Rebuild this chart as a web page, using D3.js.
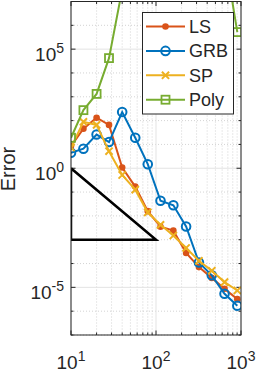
<!DOCTYPE html>
<html>
<head>
<meta charset="utf-8">
<script src="https://cdn.jsdelivr.net/npm/d3@7"></script>
<style>
  body { margin: 0; background: #fff; }
  svg text { font-family: "Liberation Sans", Arial, sans-serif; fill: #262626; }
</style>
</head>
<body>
<script>
// chart data
var nVals = [10, 14, 20, 28, 40, 57, 80, 113, 160, 226, 320, 453, 640, 905];
var lsErr = [8.5, 46, 132, 66, 1.07, 0.17, 0.0158, 3.5e-3, 2.4e-3, 2.8e-4, 7.1e-5, 2.5e-5, 8.7e-6, 3.2e-6];
var grbErr = [4.5, 6.6, 26, 12.6, 229, 19, 1.48, 0.043, 0.028, 3.6e-3, 1.1e-4, 3.2e-5, 5.4e-6, 1.7e-6];
var spErr = [7.4, 89, 66, 5.2, 0.52, 0.126, 0.0141, 4.2e-3, 1.5e-3, 4.5e-4, 1.3e-4, 5.0e-5, 1.66e-5, 7.4e-6];
var polyErr = [19, 275, 1320, 4.2e4, 3.2e7, 3e8, 2e9, 5e9, 8e9, 9e9, 6e9, 4e9, 1e9, 5.2e5];
var seriesNames = ["LS", "GRB", "SP", "Poly"];
var seriesColors = ["#D95319", "#0072BD", "#EDB120", "#77AC30"];
var xTickVals = [10, 100, 1000];
var yTickVals = [1e-5, 1, 1e5];
// slope triangle corners
var triX = [10, 10, 100, 10];
var triY = [1, 1e-3, 1e-3, 1];

window.onload = drawChart();

function drawChart(){

    var width = 258, height = 371;
    var pLeft = 71, pRight = 241, pTop = 1.5, pBottom = 335;

    var svg = d3.select("body").append("svg")
        .attr("width", width)
        .attr("height", height);

    var x = d3.scaleLog().domain([10, 1000]).range([pLeft, pRight]);
    var y = d3.scaleLog().domain([1e-7, 1e7]).range([pBottom, pTop]);

    svg.append("defs").append("clipPath").attr("id", "plotClip")
      .append("rect")
        .attr("x", pLeft).attr("y", pTop)
        .attr("width", pRight - pLeft).attr("height", pBottom - pTop);

    // minor ticks / gridlines
    var xMinor = [];
    [10, 100].forEach(function(d){ for (var k = 2; k <= 9; k++) xMinor.push(d * k); });
    var yMinor = [];
    for (var e = -7; e <= 7; e++) { if (e % 5 !== 0) yMinor.push(Math.pow(10, e)); }

    var grid = svg.append("g");
    grid.selectAll(".xminor").data(xMinor).enter().append("line")
        .attr("x1", function(d){ return x(d); }).attr("x2", function(d){ return x(d); })
        .attr("y1", pTop).attr("y2", pBottom)
        .attr("stroke", "#c8c8c8").attr("stroke-width", 0.8).attr("stroke-dasharray", "1,2");
    grid.selectAll(".yminor").data(yMinor).enter().append("line")
        .attr("y1", function(d){ return y(d); }).attr("y2", function(d){ return y(d); })
        .attr("x1", pLeft).attr("x2", pRight)
        .attr("stroke", "#c8c8c8").attr("stroke-width", 0.8).attr("stroke-dasharray", "1,2");
    grid.selectAll(".xmajor").data(xTickVals).enter().append("line")
        .attr("x1", function(d){ return x(d); }).attr("x2", function(d){ return x(d); })
        .attr("y1", pTop).attr("y2", pBottom)
        .attr("stroke", "#e3e3e3").attr("stroke-width", 1);
    grid.selectAll(".ymajor").data(yTickVals).enter().append("line")
        .attr("y1", function(d){ return y(d); }).attr("y2", function(d){ return y(d); })
        .attr("x1", pLeft).attr("x2", pRight)
        .attr("stroke", "#e3e3e3").attr("stroke-width", 1);

    // tick marks (inward, on all four sides)
    var ticks = svg.append("g").attr("stroke", "#262626").attr("stroke-width", 1);
    function xTick(d, len){
        ticks.append("line").attr("x1", x(d)).attr("x2", x(d)).attr("y1", pBottom).attr("y2", pBottom - len);
        ticks.append("line").attr("x1", x(d)).attr("x2", x(d)).attr("y1", pTop).attr("y2", pTop + len);
    }
    function yTick(d, len){
        ticks.append("line").attr("y1", y(d)).attr("y2", y(d)).attr("x1", pLeft).attr("x2", pLeft + len);
        ticks.append("line").attr("y1", y(d)).attr("y2", y(d)).attr("x1", pRight).attr("x2", pRight - len);
    }
    xMinor.forEach(function(d){ xTick(d, 2.5); });
    xTickVals.forEach(function(d){ xTick(d, 4.5); });
    yMinor.forEach(function(d){ yTick(d, 2.5); });
    yTickVals.forEach(function(d){ yTick(d, 4.5); });

    // tick labels as 10^n
    svg.selectAll(".xlab").data(xTickVals).enter().append("text")
        .attr("x", function(d){ return x(d); })
        .attr("y", 369)
        .attr("text-anchor", "middle")
        .attr("font-size", 19)
        .each(function(d){
            var t = d3.select(this);
            t.append("tspan").text("10");
            t.append("tspan").attr("font-size", 14).attr("dy", -8).text(Math.round(Math.log10(d)));
        });
    svg.selectAll(".ylab").data(yTickVals).enter().append("text")
        .attr("x", 64)
        .attr("y", function(d){ return y(d) + 11.5; })
        .attr("text-anchor", "end")
        .attr("font-size", 19)
        .each(function(d){
            var t = d3.select(this);
            t.append("tspan").text("10");
            t.append("tspan").attr("font-size", 14).attr("dy", -8).text(Math.round(Math.log10(d)));
        });

    svg.append("text")
        .attr("transform", "translate(15,169) rotate(-90)")
        .attr("text-anchor", "middle")
        .attr("font-size", 20)
        .text("Error");

    // series
    var allSeries = [lsErr, grbErr, spErr, polyErr];
    var line = d3.line()
        .x(function(d, i){ return x(nVals[i]); })
        .y(function(d){ return y(d); });

    var plot = svg.append("g").attr("clip-path", "url(#plotClip)");

    function drawMarker(g, k, px, py){
        var c = seriesColors[k];
        if (k === 0) {
            g.append("circle").attr("cx", px).attr("cy", py).attr("r", 3.3).attr("fill", c);
        } else if (k === 1) {
            g.append("circle").attr("cx", px).attr("cy", py).attr("r", 4.3)
                .attr("fill", "none").attr("stroke", c).attr("stroke-width", 2);
        } else if (k === 2) {
            var s = 3.6;
            g.append("path")
                .attr("d", "M" + (px - s) + "," + (py - s) + "L" + (px + s) + "," + (py + s) +
                           "M" + (px - s) + "," + (py + s) + "L" + (px + s) + "," + (py - s))
                .attr("stroke", c).attr("stroke-width", 2).attr("fill", "none");
        } else {
            var h = 4;
            g.append("rect").attr("x", px - h).attr("y", py - h).attr("width", 2 * h).attr("height", 2 * h)
                .attr("fill", "none").attr("stroke", c).attr("stroke-width", 1.8);
        }
    }

    allSeries.forEach(function(vals, k){
        var g = plot.append("g");
        g.append("path")
            .datum(vals)
            .attr("d", line)
            .attr("fill", "none")
            .attr("stroke", seriesColors[k])
            .attr("stroke-width", 2);
        vals.forEach(function(v, i){ drawMarker(g, k, x(nVals[i]), y(v)); });
    });

    // slope triangle
    var triLine = d3.line()
        .x(function(d, i){ return x(triX[i]); })
        .y(function(d){ return y(d); });
    plot.append("path")
        .datum(triY)
        .attr("d", triLine)
        .attr("fill", "none")
        .attr("stroke", "#000")
        .attr("stroke-width", 2.5);

    // axes box
    svg.append("rect")
        .attr("x", pLeft).attr("y", pTop)
        .attr("width", pRight - pLeft).attr("height", pBottom - pTop)
        .attr("fill", "none").attr("stroke", "#262626").attr("stroke-width", 1);

    // legend
    var lg = svg.append("g");
    lg.append("rect")
        .attr("x", 142.5).attr("y", 12.5)
        .attr("width", 91).attr("height", 101.5)
        .attr("fill", "#fff").attr("stroke", "#262626").attr("stroke-width", 1);
    seriesNames.forEach(function(name, k){
        var ly = 26.5 + k * 24.4;
        lg.append("line")
            .attr("x1", 146).attr("x2", 185).attr("y1", ly).attr("y2", ly)
            .attr("stroke", seriesColors[k]).attr("stroke-width", 2);
        drawMarker(lg, k, 165.5, ly);
        lg.append("text")
            .attr("x", 189).attr("y", ly + 6.5)
            .attr("font-size", 18)
            .text(name);
    });
}
</script>
</body>
</html>
